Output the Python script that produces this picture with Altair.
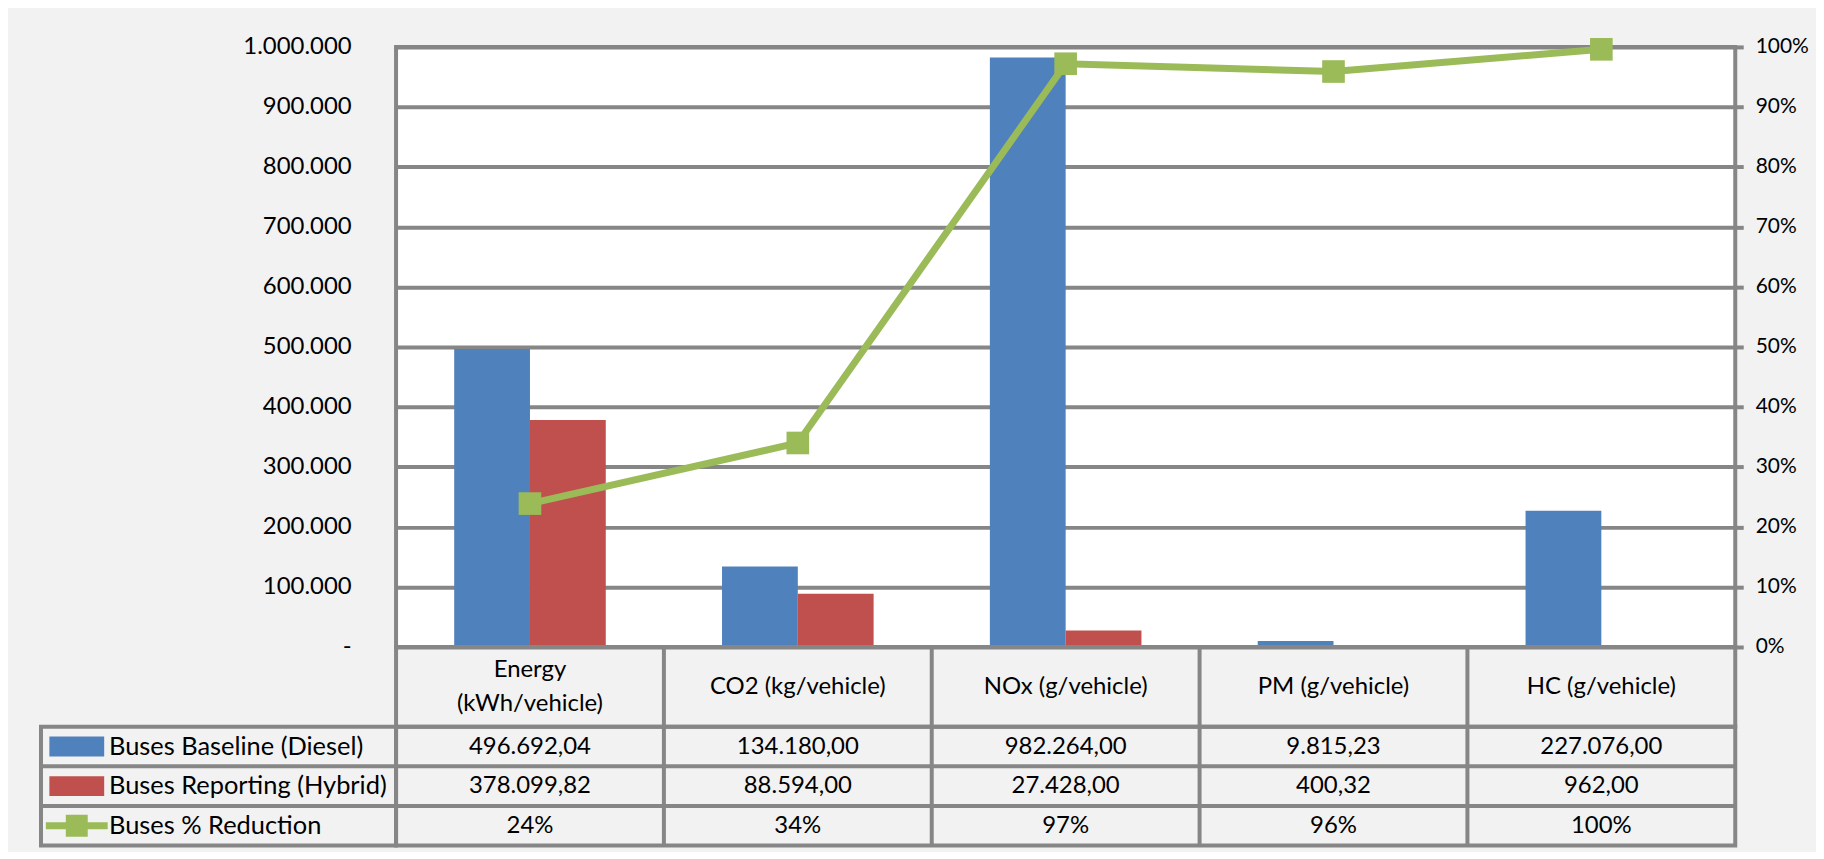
import altair as alt
import pandas as pd

# ---------------- data ----------------
categories = ["Energy (kWh/vehicle)", "CO2 (kg/vehicle)", "NOx (g/vehicle)",
              "PM (g/vehicle)", "HC (g/vehicle)"]
header_labels = ["Energy\n(kWh/vehicle)", "CO2 (kg/vehicle)", "NOx (g/vehicle)",
                 "PM (g/vehicle)", "HC (g/vehicle)"]
series_names = ["Buses Baseline (Diesel)", "Buses Reporting (Hybrid)", "Buses % Reduction"]
baseline = [496692.04, 134180.00, 982264.00, 9815.23, 227076.00]
reporting = [378099.82, 88594.00, 27428.00, 400.32, 962.00]
reduction = [0.239, 0.340, 0.972, 0.959, 0.996]
left_ticks = [0, 100000, 200000, 300000, 400000, 500000, 600000, 700000, 800000, 900000, 1000000]
left_tick_labels = ["-\u00a0\u00a0\u00a0", "100.000", "200.000", "300.000", "400.000", "500.000",
                    "600.000", "700.000", "800.000", "900.000", "1.000.000"]
right_ticks = [0, 0.1, 0.2, 0.3, 0.4, 0.5, 0.6, 0.7, 0.8, 0.9, 1.0]

# ---------------- style ----------------
BLUE, RED, GREEN = "#4f81bd", "#c0504d", "#9bbb59"
GRID = "#868686"
PANEL = "#f2f2f2"
FONT = "Lato"
FS = 24
W, H = 1343.5, 602
HEAD_H, ROW_H = 80, 39.7
LEG_W = 356.2
TOP_PIN = 30      # fixed room above the plot
RIGHT_PIN = 78    # fixed room right of the plot


def eu(v):
    s = f"{v:,.2f}"
    return s.replace(",", "X").replace(".", ",").replace("X", ".")


# ---------------- tables built from arrays ----------------
bars_df = pd.DataFrame(
    [{"cat": c, "series": series_names[0], "value": b} for c, b in zip(categories, baseline)]
    + [{"cat": c, "series": series_names[1], "value": r} for c, r in zip(categories, reporting)]
)
line_df = pd.DataFrame({"cat": categories, "pct": reduction})
hdr_df = pd.DataFrame({"cat": categories, "label": header_labels, "row": "h",
                       "lines": [s.count("\n") + 1 for s in header_labels]})
cells_df = pd.DataFrame(
    [{"cat": c, "row": series_names[0], "txt": eu(v)} for c, v in zip(categories, baseline)]
    + [{"cat": c, "row": series_names[1], "txt": eu(v)} for c, v in zip(categories, reporting)]
    + [{"cat": c, "row": series_names[2], "txt": f"{round(v * 100)}%"} for c, v in zip(categories, reduction)]
)
rows_df = pd.DataFrame({"row": series_names})
div_df = pd.DataFrame({"cat": categories[1:]})
hdiv_df = pd.DataFrame({"row": series_names[1:]})
one_df = pd.DataFrame({"k": [0]})

xs = alt.Scale(domain=categories, paddingInner=0, paddingOuter=0)
X = alt.X("cat:N", scale=xs, axis=None)
ys_rows = alt.Scale(domain=series_names, paddingInner=0, paddingOuter=0)
color_scale = alt.Scale(domain=series_names, range=[BLUE, RED, GREEN])

label_expr = ("[" + ",".join(f"'{s}'" for s in left_tick_labels) + "][indexof(["
              + ",".join(str(t) for t in left_ticks) + "], datum.value)]")

# ---------------- top plot ----------------
bars = alt.Chart(bars_df).mark_bar().encode(
    x=X,
    xOffset=alt.XOffset("series:N", scale=alt.Scale(domain=series_names[:2],
                                                    paddingInner=0, paddingOuter=0.767)),
    y=alt.Y("value:Q", scale=alt.Scale(domain=[0, 1000000], nice=False),
            axis=alt.Axis(orient="left", values=left_ticks, labelExpr=label_expr,
                          grid=True, gridColor=GRID, gridWidth=4, gridOpacity=1,
                          ticks=False, domain=False, labelPadding=45,
                          labelFont=FONT, labelFontSize=FS, labelColor="black", title=None)),
    color=alt.Color("series:N", scale=color_scale, legend=None),
)

line = alt.Chart(line_df).mark_line(
    color=GREEN, strokeWidth=7,
    point=alt.OverlayMarkDef(shape="square", size=515, filled=True, color=GREEN, opacity=1),
).encode(
    x=X,
    y=alt.Y("pct:Q", scale=alt.Scale(domain=[0, 1], nice=False),
            axis=alt.Axis(orient="right", values=right_ticks, format=".0%", grid=False,
                          tickSize=8, tickWidth=4, tickColor=GRID, domain=False,
                          labelPadding=12, labelFont=FONT, labelFontSize=21,
                          labelColor="black", title=None)),
)

# background-coloured 1px pins that fix the chart's outer extent
pin_top = alt.Chart(one_df).mark_rule(color=PANEL, strokeWidth=1).encode(
    x=alt.value(0), x2=alt.value(1), y=alt.value(-TOP_PIN)
)
pin_right = alt.Chart(one_df).mark_rule(color=PANEL, strokeWidth=1).encode(
    x=alt.value(W + RIGHT_PIN), y=alt.value(30), y2=alt.value(31)
)

top = alt.layer(bars, line, pin_top, pin_right).resolve_scale(y="independent").properties(
    width=W, height=H, view=alt.ViewBackground(fill="white", stroke=GRID, strokeWidth=4)
)

# ---------------- header row ----------------
hdr_div = alt.Chart(div_df).mark_rule(color=GRID, strokeWidth=4).encode(
    x=alt.X("cat:N", scale=xs, axis=None, bandPosition=0),
    y=alt.value(0), y2=alt.value("height"),
)
hdr_txt1 = alt.Chart(hdr_df).transform_filter("datum.lines == 1").mark_text(
    font=FONT, fontSize=FS, color="black").encode(
    x=X, y=alt.Y("row:N", axis=None), text="label:N"
)
hdr_txt2 = alt.Chart(hdr_df).transform_filter("datum.lines == 2").mark_text(
    font=FONT, fontSize=FS, color="black", lineBreak="\n", lineHeight=34, dy=-17).encode(
    x=X, y=alt.Y("row:N", axis=None), text="label:N"
)
header = alt.layer(hdr_div, hdr_txt1, hdr_txt2).properties(
    width=W, height=HEAD_H, view=alt.ViewBackground(stroke=GRID, strokeWidth=4)
)

# ---------------- data rows ----------------
Yr = alt.Y("row:N", scale=ys_rows, axis=None)
row_div = alt.Chart(div_df).mark_rule(color=GRID, strokeWidth=4).encode(
    x=alt.X("cat:N", scale=xs, axis=None, bandPosition=0),
    y=alt.value(0), y2=alt.value("height"),
)
row_hdiv = alt.Chart(hdiv_df).mark_rule(color=GRID, strokeWidth=4).encode(
    y=alt.Y("row:N", scale=ys_rows, axis=None, bandPosition=0),
    x=alt.value(-LEG_W), x2=alt.value("width"),
)
leg_box = alt.Chart(one_df).mark_rect(fillOpacity=0, stroke=GRID, strokeWidth=4).encode(
    x=alt.value(-LEG_W), x2=alt.value(0), y=alt.value(0), y2=alt.value("height"),
)
cells = alt.Chart(cells_df).mark_text(font=FONT, fontSize=FS, color="black").encode(
    x=X, y=Yr, text="txt:N"
)
leg_txt = alt.Chart(rows_df).mark_text(font=FONT, fontSize=25.5, color="black", align="left").encode(
    x=alt.value(-288), y=Yr, text="row:N"
)
# legend keys (symbol size 1444 -> unit = 19 px)
rect_path = "M-1.447,-0.526H1.447V0.526H-1.447Z"
line_path = ("M-1.632,-0.184H-0.579V-0.579H0.579V-0.184H1.632V0.184H0.579V0.579"
             "H-0.579V0.184H-1.632Z")
swatch = alt.Chart(rows_df).mark_point(filled=True, opacity=1, size=1444, strokeWidth=0).encode(
    x=alt.value(-320.3), y=Yr,
    shape=alt.Shape("row:N", scale=alt.Scale(domain=series_names,
                                             range=[rect_path, rect_path, line_path]), legend=None),
    color=alt.Color("row:N", scale=color_scale, legend=None),
)
rows = alt.layer(row_div, row_hdiv, leg_box, cells, leg_txt, swatch).properties(
    width=W, height=3 * ROW_H, view=alt.ViewBackground(stroke=GRID, strokeWidth=4)
)

chart = alt.vconcat(top, header, rows, spacing=0, bounds="flush").properties(
    background=PANEL,
    padding={"left": 28.3, "top": 4.7, "right": 0, "bottom": 0},
).configure(font=FONT).configure_view(strokeWidth=4)

chart.save("out.html", embed_options={"renderer": "svg", "actions": False})
